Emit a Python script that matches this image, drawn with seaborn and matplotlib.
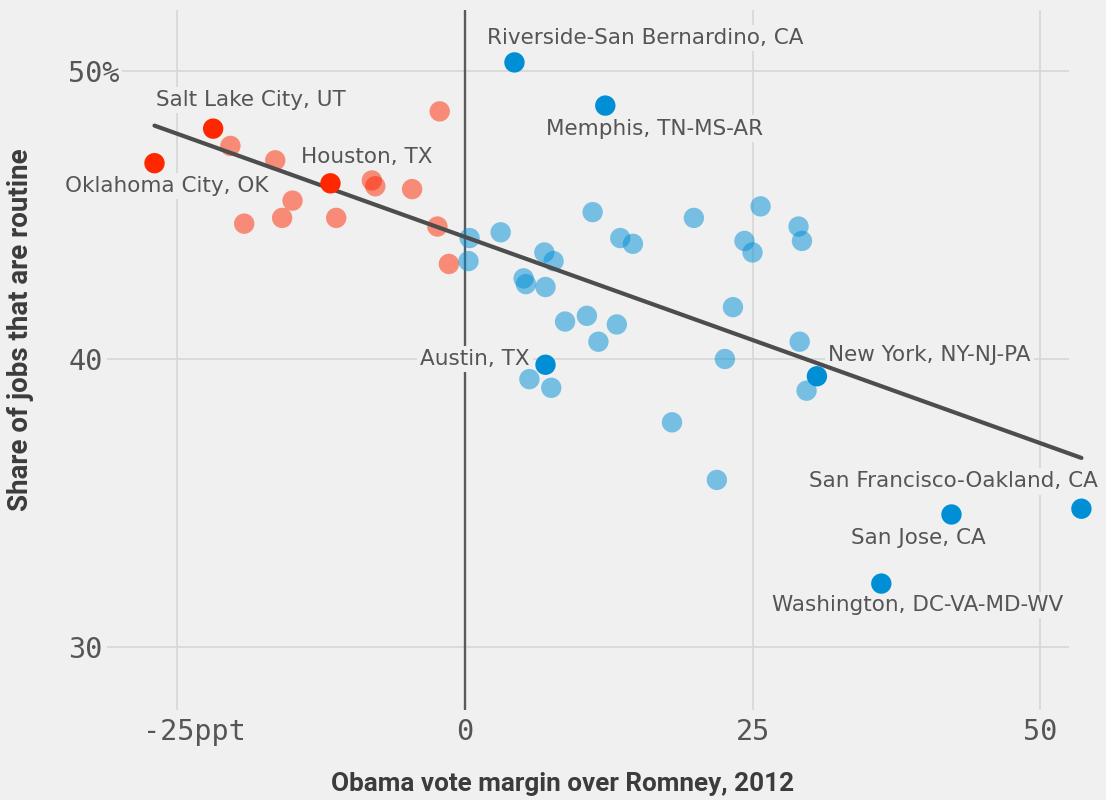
import numpy as np
import pandas as pd
import matplotlib
matplotlib.use("Agg")
import matplotlib.pyplot as plt
import matplotlib.transforms as mtransforms
import seaborn as sns

# x = Obama vote margin over Romney 2012 (ppt), y = share of jobs that are routine (%)
# unlabeled metros Romney won
red_x = [-2.2, -20.4, -16.5, -8.1, -7.8, -4.6, -15.0, -15.9, -19.2, -11.2, -2.4, -1.4]
red_y = [48.6, 47.4, 46.9, 46.2, 46.0, 45.9, 45.5, 44.9, 44.7, 44.9, 44.6, 43.3]

# unlabeled metros Obama won
blue_x = [0.4, 0.3, 3.1, 11.1, 13.5, 14.6, 6.9, 7.7, 5.1, 5.3, 7.0, 8.7, 10.6, 13.2,
          11.6, 5.6, 7.5, 19.9, 25.7, 24.3, 25.0, 29.0, 29.3, 23.3, 22.6, 29.1, 29.7,
          18.0, 21.9]
blue_y = [44.2, 43.4, 44.4, 45.1, 44.2, 44.0, 43.7, 43.4, 42.8, 42.6, 42.5, 41.3, 41.5,
          41.2, 40.6, 39.3, 39.0, 44.9, 45.3, 44.1, 43.7, 44.6, 44.1, 41.8, 40.0, 40.6,
          38.9, 37.8, 35.8]

# labeled metros
named = ["Salt Lake City, UT", "Oklahoma City, OK", "Houston, TX",
         "Riverside-San Bernardino, CA", "Memphis, TN-MS-AR", "Austin, TX",
         "New York, NY-NJ-PA", "San Francisco-Oakland, CA", "San Jose, CA",
         "Washington, DC-VA-MD-WV"]
named_x = [-21.9, -27.0, -11.7, 4.3, 12.2, 7.0, 30.6, 53.6, 42.3, 36.2]
named_y = [48.0, 46.8, 46.1, 50.3, 48.8, 39.8, 39.4, 34.8, 34.6, 32.2]
named_party = ["R", "R", "R", "D", "D", "D", "D", "D", "D", "D"]

# where each label sits (x, y, alignment)
label_pos = [(-26.9, 49.0, "left"), (-34.8, 46.0, "left"), (-14.3, 47.0, "left"),
             (1.9, 51.15, "left"), (7.0, 48.0, "left"), (5.6, 40.0, "right"),
             (31.6, 40.15, "left"), (29.9, 35.75, "left"), (33.6, 33.8, "left"),
             (26.7, 31.45, "left")]

bg = "#f0f0f0"
palette = {"R": "#ff2700", "D": "#008fd5"}

light = pd.DataFrame({"margin": red_x + blue_x,
                      "routine": red_y + blue_y,
                      "party": ["R"] * len(red_x) + ["D"] * len(blue_x)})
dark = pd.DataFrame({"margin": named_x, "routine": named_y, "party": named_party,
                     "name": named})
everything = pd.concat([light, dark], ignore_index=True)

sns.set_theme(style="white")
plt.rcParams["font.family"] = ["Roboto", "DejaVu Sans"]

fig = plt.figure(figsize=(11.06, 8), dpi=100, facecolor=bg)
ax = fig.add_axes([107 / 1106, 90 / 800, 962 / 1106, 700 / 800])
ax.set_facecolor(bg)

sns.scatterplot(data=light, x="margin", y="routine", hue="party", palette=palette,
                s=215, alpha=0.5, linewidth=0, legend=False, ax=ax, zorder=3,
                clip_on=False)
sns.regplot(data=everything, x="margin", y="routine", scatter=False, ci=None,
            truncate=True, color="#4d4d4d", line_kws={"lw": 3, "zorder": 4,
                                                      "clip_on": False}, ax=ax)
sns.scatterplot(data=dark, x="margin", y="routine", hue="party", palette=palette,
                s=215, linewidth=0, legend=False, ax=ax, zorder=5, clip_on=False)

for name, (lx, ly, ha) in zip(named, label_pos):
    ax.text(lx, ly, name, ha=ha, va="center", fontsize=15.5, color="#555555",
            family=["DejaVu Sans"], zorder=2.5,
            bbox=dict(boxstyle="square,pad=0.15", fc=bg, ec="none"))

ax.axvline(0, color="#5a5a5a", lw=1.7, zorder=1)

ax.set_xlim(-31.13, 52.52)
ax.set_ylim(27.81, 52.12)
ax.set_xticks([-25, 0, 25, 50])
ax.set_xticklabels(["-25ppt", "0", "25", "50"])
ax.set_yticks([30, 40, 50])
ax.set_yticklabels(["30", "40", "50%"])
ax.grid(True, color="#d6d6d6", lw=1.2, zorder=0)
ax.set_axisbelow(True)
for s in ax.spines.values():
    s.set_visible(False)

ax.tick_params(axis="x", length=0, pad=6, labelsize=20.5, labelcolor="#555555")
ax.tick_params(axis="y", length=0, pad=28, labelsize=20.5, labelcolor="#555555")
for lab in ax.get_xticklabels() + ax.get_yticklabels():
    lab.set_family(["DejaVu Sans Mono"])
for lab in ax.get_yticklabels():
    lab.set_horizontalalignment("left")
    lab.set_bbox(dict(boxstyle="square,pad=0.1", fc=bg, ec="none"))
# keep the "25" of "-25ppt" centred on its tick
first = ax.get_xticklabels()[0]
first.set_transform(first.get_transform() +
                    mtransforms.ScaledTranslation(0.171, 0, fig.dpi_scale_trans))

ax.set_xlabel("Obama vote margin over Romney, 2012", fontsize=18.8, fontweight="bold",
              color="#3c3c3c")
ax.set_ylabel("Share of jobs that are routine", fontsize=20, fontweight="bold",
              color="#3c3c3c")
ax.xaxis.set_label_coords(0.474, -0.089)
ax.yaxis.set_label_coords(-0.0755, 0.543)

fig.savefig("out.png", dpi=100, facecolor=bg)
